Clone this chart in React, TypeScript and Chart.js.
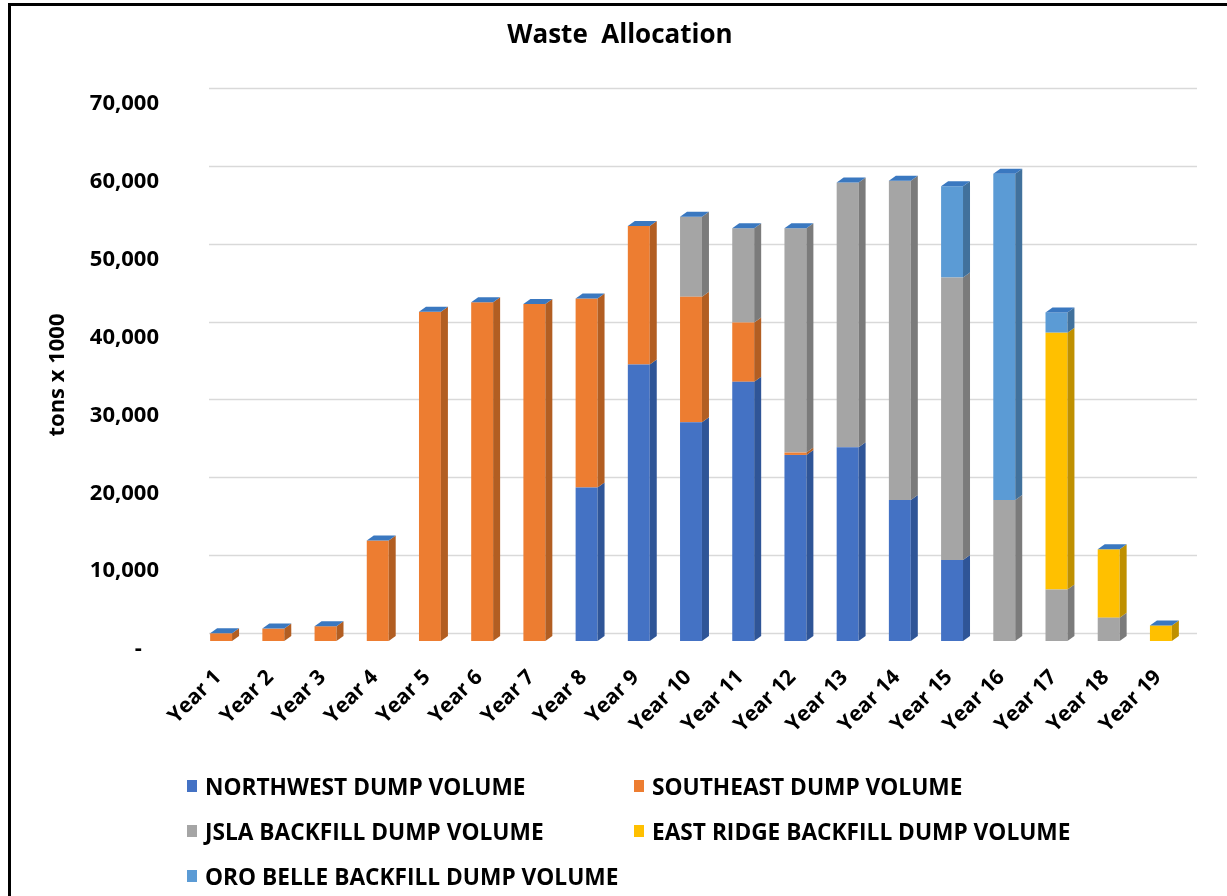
import React, { useEffect, useRef } from "react";
import { Chart, registerables } from "chart.js";

Chart.register(...registerables);

const categories = [
  "Year 1", "Year 2", "Year 3", "Year 4", "Year 5", "Year 6", "Year 7", "Year 8", "Year 9", "Year 10",
  "Year 11", "Year 12", "Year 13", "Year 14", "Year 15", "Year 16", "Year 17", "Year 18", "Year 19",
];

const northwest = [0, 0, 0, 0, 0, 0, 0, 19700, 35500, 28100, 33300, 23900, 24900, 18100, 10400, 0, 0, 0, 0];
const southeast = [1000, 1600, 1900, 12900, 42300, 43500, 43300, 24300, 17800, 16100, 7600, 300, 0, 0, 0, 0, 0, 0, 0];
const jsla = [0, 0, 0, 0, 0, 0, 0, 0, 0, 10300, 12100, 28800, 34000, 41000, 36300, 18100, 6600, 3000, 0];
const eastRidge = [0, 0, 0, 0, 0, 0, 0, 0, 0, 0, 0, 0, 0, 0, 0, 0, 33000, 8800, 2000];
const oroBelle = [0, 0, 0, 0, 0, 0, 0, 0, 0, 0, 0, 0, 0, 0, 11700, 41900, 2600, 0, 0];

const yTicks = [0, 10000, 20000, 30000, 40000, 50000, 60000, 70000];

const chartTitle = "Waste  Allocation";
const yAxisTitle = "tons x 1000";

const seriesNames = [
  "NORTHWEST DUMP VOLUME",
  "SOUTHEAST DUMP VOLUME",
  "JSLA BACKFILL DUMP VOLUME",
  "EAST RIDGE BACKFILL DUMP VOLUME",
  "ORO BELLE BACKFILL DUMP VOLUME",
];
const seriesValues = [northwest, southeast, jsla, eastRidge, oroBelle];
const colors = ["#4472C4", "#ED7D31", "#A5A5A5", "#FFC000", "#5B9BD5"];
const sideColors = ["#2F5597", "#B25E22", "#7B7B7B", "#BF9000", "#41719C"];
const capColor = "#3A78C0";

const FONT = "'Open Sans', 'Liberation Sans', sans-serif";

const depthPlugin = {
  id: "depth3d",
  beforeDatasetsDraw(chart: any) {
    const { ctx, chartArea, scales } = chart;
    const ys = scales.y;
    ctx.save();
    ctx.strokeStyle = "#D9D9D9";
    ctx.lineWidth = 1.5;
    for (const v of yTicks) {
      const py = Math.round(ys.getPixelForValue(v) - 8) + 0.5;
      ctx.beginPath();
      ctx.moveTo(chartArea.left + 14, py);
      ctx.lineTo(chartArea.right + 10, py);
      ctx.stroke();
    }
    ctx.restore();
  },
  afterDatasetsDraw(chart: any) {
    const { ctx } = chart;
    const dx = 7;
    const dy = -5;
    const n = chart.data.labels.length;
    const topIdx: number[] = new Array(n).fill(-1);
    chart.data.datasets.forEach((ds: any, di: number) => {
      ds.data.forEach((v: number, i: number) => {
        if (v > 0) topIdx[i] = di;
      });
    });
    ctx.save();
    chart.data.datasets.forEach((ds: any, di: number) => {
      const meta = chart.getDatasetMeta(di);
      meta.data.forEach((bar: any, i: number) => {
        const v = ds.data[i];
        if (!v) return;
        const { x, y, base, width } = bar.getProps(["x", "y", "base", "width"], true);
        const l = x - width / 2;
        const r = x + width / 2;
        ctx.fillStyle = sideColors[di];
        ctx.beginPath();
        ctx.moveTo(r, y);
        ctx.lineTo(r + dx, y + dy);
        ctx.lineTo(r + dx, base + dy);
        ctx.lineTo(r, base);
        ctx.closePath();
        ctx.fill();
        if (topIdx[i] === di) {
          ctx.fillStyle = capColor;
          ctx.beginPath();
          ctx.moveTo(l, y);
          ctx.lineTo(l + dx, y + dy);
          ctx.lineTo(r + dx, y + dy);
          ctx.lineTo(r, y);
          ctx.closePath();
          ctx.fill();
        }
      });
    });
    ctx.restore();
  },
};

const textPlugin = {
  id: "texts",
  afterDraw(chart: any) {
    const { ctx } = chart;
    ctx.save();
    ctx.fillStyle = "#000";
    ctx.textAlign = "center";
    ctx.textBaseline = "middle";
    ctx.font = `bold 26px ${FONT}`;
    ctx.fillText(chartTitle, 620, 36);
    ctx.translate(58, 375);
    ctx.rotate(-Math.PI / 2);
    ctx.font = `bold 22px ${FONT}`;
    ctx.fillText(yAxisTitle, 0, 0);
    ctx.restore();
  },
};

export default function App() {
  const canvasRef = useRef<HTMLCanvasElement | null>(null);

  useEffect(() => {
    if (!canvasRef.current) return;
    const chart = new Chart(canvasRef.current, {
      type: "bar",
      data: {
        labels: categories,
        datasets: seriesNames.map((name, i) => ({
          label: name,
          data: seriesValues[i],
          backgroundColor: colors[i],
          borderWidth: 0,
          barPercentage: 0.42,
          categoryPercentage: 1,
        })),
      },
      options: {
        responsive: false,
        animation: false,
        layout: { padding: { left: 0, right: 40, top: 96, bottom: 125 } },
        plugins: {
          legend: { display: false },
          tooltip: { enabled: false },
          title: { display: false },
        },
        scales: {
          x: {
            stacked: true,
            grid: { display: false, drawTicks: false },
            border: { display: false },
            ticks: {
              autoSkip: false,
              maxRotation: 45,
              minRotation: 45,
              padding: 24,
              labelOffset: -3,
              color: "#000",
              font: { family: FONT, size: 21, weight: "bold" },
            },
            afterFit(scale: any) {
              scale.height = 130;
            },
          },
          y: {
            stacked: true,
            min: 0,
            max: 70000,
            grid: { display: false, drawTicks: false },
            border: { display: false },
            afterBuildTicks(scale: any) {
              scale.ticks = yTicks.map((v) => ({ value: v }));
            },
            ticks: {
              padding: 36,
              labelOffset: 8,
              color: "#000",
              font: { family: FONT, size: 22, weight: "bold" },
              callback: (v: any) => (Number(v) === 0 ? "-   " : Number(v).toLocaleString("en-US")),
            },
            afterFit(scale: any) {
              scale.width = 195;
            },
          },
        },
      },
      plugins: [depthPlugin, textPlugin],
    });
    return () => chart.destroy();
  }, []);

  return (
    <div style={{ position: "absolute", left: 0, top: 0, width: 1227, height: 896, background: "#fff", overflow: "hidden" }}>
      <canvas ref={canvasRef} width={1227} height={896} style={{ position: "absolute", left: 0, top: 0 }} />
      <div
        style={{
          position: "absolute",
          left: 8,
          top: 3,
          width: 1230,
          height: 900,
          borderLeft: "3px solid #000",
          borderTop: "3px solid #000",
          pointerEvents: "none",
        }}
      />
      {seriesNames.map((name, i) => {
        const col = i % 2;
        const row = Math.floor(i / 2);
        return (
          <div
            key={name}
            style={{
              position: "absolute",
              left: 187 + col * 447,
              top: 786 + row * 45 - 16,
              height: 32,
              display: "flex",
              alignItems: "center",
              fontFamily: FONT,
              fontWeight: 700,
              fontSize: 22.7,
              color: "#000",
              whiteSpace: "nowrap",
            }}
          >
            <span style={{ display: "inline-block", width: 10, height: 12, background: colors[i], marginRight: 8 }} />
            {name}
          </div>
        );
      })}
    </div>
  );
}
